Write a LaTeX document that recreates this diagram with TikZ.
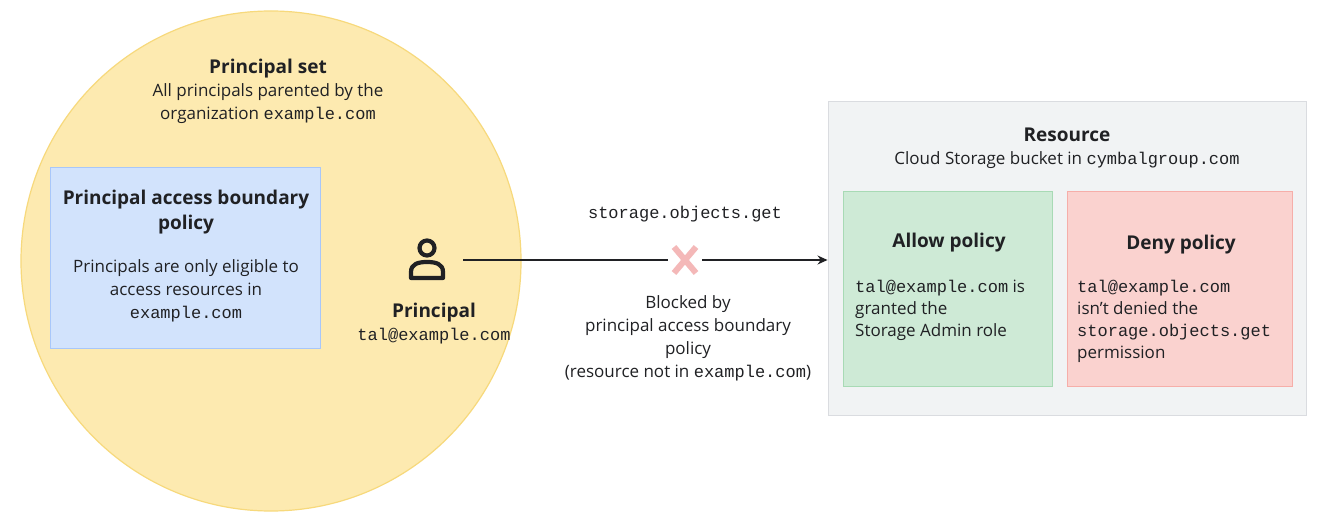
\documentclass[tikz,border=0pt]{standalone}
\usepackage{fontspec}
\setmainfont{Open Sans}
\setmonofont{Liberation Mono}
\usetikzlibrary{arrows.meta}
\definecolor{ycirc}{HTML}{FDEAB0}
\definecolor{ybord}{HTML}{F7D97C}
\definecolor{bfill}{HTML}{D2E3FC}
\definecolor{bbord}{HTML}{A8C7FA}
\definecolor{gfill}{HTML}{CEEAD6}
\definecolor{gbord}{HTML}{A8DAB5}
\definecolor{rfill}{HTML}{FAD2CF}
\definecolor{rbord}{HTML}{F6AEA9}
\definecolor{resfill}{HTML}{F1F3F4}
\definecolor{resbord}{HTML}{DADCE0}
\definecolor{txt}{HTML}{202124}
\definecolor{xpink}{HTML}{F4B8B8}
\begin{document}
\begin{tikzpicture}[x=1pt,y=-1pt,
  box/.style={draw,line width=1pt,inner sep=0pt},
  t/.style={text=txt,font=\fontsize{17}{23}\selectfont,align=center,inner sep=0pt},
  tl/.style={text=txt,font=\fontsize{17}{22}\selectfont,align=left,inner sep=0pt,anchor=north west},
  b/.style={font=\fontsize{19}{24.5}\selectfont\bfseries}]
\useasboundingbox[fill=white] (0,0) rectangle (1329,526);
\node[circle,draw=ybord,fill=ycirc,line width=1.2pt,minimum size=500pt,inner sep=0pt] (set) at (271,261) {};
\node[t,anchor=north] (settxt) at (268,59) {{\fontsize{19}{22}\selectfont\bfseries Principal set}\\All principals parented by the\\organization \texttt{example.com}};
\node[box,draw=bbord,fill=bfill,minimum width=270pt,minimum height=180pt] (pab) at (185,258) {};
\node[t,b,anchor=north] (pabtitle) at (186,190) {Principal access boundary\\policy};
\node[t,anchor=north] (pabtxt) at (186,259) {Principals are only eligible to\\access resources in\\\texttt{example.com}};
% person icon
\node[inner sep=0pt,minimum size=40pt] (person) at (427,258) {};
\draw[line width=4.2pt,txt] (427,248) circle (7.5pt);
\draw[line width=4.2pt,txt,line join=round] (411,278) -- (411,272) .. controls (411,264) and (418,262) .. (427,262) .. controls (436,262) and (443,264) .. (443,272) -- (443,278) -- cycle;
\node[t,anchor=north] (ptxt) at (434,303) {{\fontsize{19}{22}\selectfont\bfseries Principal}\\\texttt{tal@example.com}};
% resource
\node[box,draw=resbord,fill=resfill,minimum width=478pt,minimum height=313pt] (res) at (1067,258.5) {};
\node[t,anchor=north] (restxt) at (1067,128) {{\fontsize{19}{22}\selectfont\bfseries Resource}\\Cloud Storage bucket in \texttt{cymbalgroup.com}};
\node[box,draw=gbord,fill=gfill,minimum width=209pt,minimum height=194pt] (allow) at (947.5,289) {};
\node[t,b,anchor=north] at (949,233) {Allow policy};
\node[tl] (allowtxt) at (855,280) {\texttt{tal@example.com} is\\granted the\\Storage Admin role};
\node[box,draw=rbord,fill=rfill,minimum width=225pt,minimum height=194pt] (deny) at (1179.5,289) {};
\node[t,b,anchor=north] at (1181,235) {Deny policy};
\node[tl] (denytxt) at (1077,280) {\texttt{tal@example.com}\\isn't denied the\\\texttt{storage.objects.get}\\permission};
% arrow
\node[inner sep=0pt,minimum width=34pt,minimum height=30pt] (x) at (685,260) {};
\coordinate (start) at (463,260);
\draw[line width=1.2pt,txt] (start) -- (x.west);
\draw[line width=1.2pt,txt,-{Stealth[length=10pt,width=9pt]}] (x.east) -- (res.west |- x.east);
\draw[xpink,line width=6pt] (674,247) -- (696,273) (696,247) -- (674,273);
\node[t,anchor=south] at (685,222) {\texttt{storage.objects.get}};
\node[t,anchor=north] (blk) at (688,295) {Blocked by\\principal access boundary\\policy\\(resource not in \texttt{example.com})};
\end{tikzpicture}
\end{document}
